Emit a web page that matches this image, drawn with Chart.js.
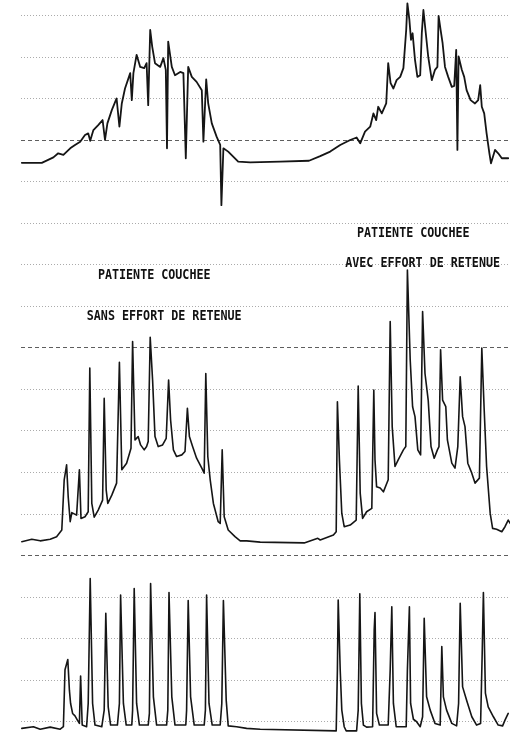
<!DOCTYPE html>
<html>
<head>
<meta charset="utf-8">
<script src="https://cdn.jsdelivr.net/npm/chart.js@4/dist/chart.umd.min.js"></script>
<style>
  html, body { margin: 0; padding: 0; background: #fff; }
  #wrap { position: relative; width: 522px; height: 732px; }
</style>
</head>
<body>
<div id="wrap"><canvas id="c"></canvas></div>
<script>
// Recorded traces: [time (s), value (cmH2O, baseline = 0)]
const pressureTrace = [
  [0.2,-0.2],[5.2,-0.2],[8.1,1.1],[9.3,2.1],[10.6,1.7],[12.3,3.3],[13.5,4.1],[14.8,4.9],[16.0,6.5],[16.8,6.9],
  [17.3,5.1],[18.1,7.7],[19.3,8.9],[20.4,10.1],[21.0,5.3],[21.6,9.3],[22.7,12.5],[23.9,15.3],[24.6,8.5],[25.2,14.1],
  [26.0,17.7],[27.3,21.4],[27.7,14.9],[28.1,21.4],[28.9,25.8],[29.8,22.9],[30.8,22.6],[31.4,23.8],[31.8,13.7],[32.3,31.8],
  [32.8,27.8],[33.5,23.8],[34.8,22.9],[35.6,25.0],[36.2,22.2],[36.5,3.3],[36.8,29.0],[37.7,22.9],[38.5,20.9],[39.8,21.7],
  [40.6,21.4],[41.2,0.9],[41.8,22.9],[42.7,20.5],[43.9,19.3],[45.2,17.3],[45.6,4.9],[46.3,19.9],[46.8,14.1],[47.7,9.3],
  [48.9,6.1],[49.8,4.1],[50.1,-10.4],[50.6,3.3],[51.8,2.5],[54.3,0.1],[57.3,-0.1],[64.8,0.1],[72.0,0.3],[74.8,1.4],
  [77.3,2.5],[79.8,4.1],[82.3,5.3],[83.9,5.9],[84.8,4.5],[86.0,7.3],[87.3,8.5],[88.1,11.7],[88.8,10.1],[89.3,13.3],
  [90.2,11.7],[91.3,14.1],[91.8,23.8],[92.4,19.0],[93.1,17.7],[93.9,19.7],[94.8,20.5],[95.6,22.6],[96.3,31.8],[96.6,38.2],
  [97.1,34.2],[97.5,29.4],[97.9,31.0],[98.5,24.6],[99.1,20.5],[99.8,20.9],[100.2,31.0],[100.6,36.6],[101.2,31.0],[101.8,25.4],
  [102.7,19.7],[103.5,22.2],[104.1,22.9],[104.4,35.2],[104.9,31.8],[105.4,28.6],[106.0,22.9],[106.8,20.5],[107.7,18.1],[108.3,18.3],
  [108.8,27.0],[109.1,2.9],[109.4,25.4],[110.2,22.2],[110.8,20.5],[111.4,17.3],[112.4,14.9],[113.5,14.1],[114.3,14.9],[114.8,18.5],
  [115.2,13.3],[115.8,11.7],[116.4,6.9],[117.1,2.1],[117.5,-0.3],[118.5,2.9],[119.3,2.1],[120.2,0.9],[121.8,0.9]
];

const middleTrace = [
  [0.2,0],[2.7,0.6],[4.8,0.2],[7.3,0.6],[8.9,1.2],[10.2,2.8],[10.8,14.9],[11.4,18.5],[11.8,10.8],[12.3,4.8],
  [12.7,7.0],[13.9,6.4],[14.6,17.3],[15.0,5.6],[16.0,6.0],[16.8,7.2],[17.2,41.8],[17.7,9.2],[18.3,5.9],[19.3,7.6],
  [20.4,10.0],[20.8,34.5],[21.3,12.4],[21.7,9.2],[22.7,11.2],[23.9,14.1],[24.6,43.2],[25.2,17.3],[26.4,18.9],[27.5,22.5],
  [27.9,48.2],[28.5,24.5],[29.3,25.3],[29.9,23.3],[30.8,22.1],[31.4,22.9],[31.8,24.1],[32.3,49.2],[32.9,38.9],[33.5,25.3],
  [34.3,22.9],[35.4,23.3],[36.3,24.9],[36.9,38.9],[37.4,29.3],[38.1,22.1],[38.9,20.5],[40.2,20.9],[41.0,21.7],[41.6,32.1],
  [42.1,25.3],[42.9,22.9],[43.9,20.1],[45.2,17.7],[45.8,16.5],[46.2,40.5],[46.7,20.5],[47.3,14.9],[48.1,9.2],[49.3,4.8],
  [49.8,4.4],[50.3,22.1],[50.8,6.0],[51.8,2.8],[53.5,1.2],[54.8,0.2],[56.4,0.2],[59.8,-0.1],[70.8,-0.3],[74.2,0.8],
  [74.8,0.4],[78.1,1.6],[78.8,2.4],[79.1,33.7],[79.6,19.7],[80.2,6.8],[80.8,3.6],[82.3,4.0],[83.8,5.2],[84.3,37.5],
  [84.8,11.7],[85.4,5.6],[86.4,7.2],[87.7,8.0],[88.2,36.5],[88.5,19.7],[88.9,13.2],[89.8,12.9],[90.6,12.0],[91.8,14.9],
  [92.3,53.0],[92.8,27.7],[93.5,18.1],[94.3,19.7],[95.6,22.1],[96.2,22.9],[96.6,65.4],[97.3,43.8],[97.9,32.5],[98.5,30.1],
  [99.2,22.1],[99.9,20.9],[100.4,55.4],[101.0,40.5],[101.8,34.1],[102.5,22.9],[103.3,20.1],[104.1,22.1],[104.5,22.9],[104.9,46.2],
  [105.4,34.1],[106.2,32.5],[106.6,24.5],[107.7,18.9],[108.5,17.7],[109.2,22.9],[109.8,39.7],[110.4,30.1],[111.0,27.7],[111.7,18.9],
  [112.7,16.5],[113.5,14.1],[114.6,15.3],[115.2,46.6],[115.8,31.7],[116.4,18.1],[117.3,6.8],[117.9,3.2],[118.9,3.0],[120.2,2.4],
  [121.0,3.6],[121.8,5.2],[122.3,4.4]
];

const bottomTrace = [
  [0.2,-0.1],[3.1,0.3],[4.8,-0.3],[7.3,0.2],[9.8,-0.3],[10.6,0.3],[11.0,14.0],[11.7,16.5],[12.1,9.1],[12.4,5.9],
  [12.9,3.5],[13.5,2.9],[14.1,1.9],[14.6,1.1],[14.9,12.5],[15.3,0.7],[16.4,0.3],[16.8,5.9],[17.3,36.0],[17.9,5.9],
  [18.5,0.7],[20.2,0.3],[20.8,4.3],[21.2,27.6],[21.8,5.1],[22.4,0.7],[24.1,0.7],[24.6,5.9],[24.9,32.0],[25.6,5.9],
  [26.3,0.7],[27.7,0.7],[27.9,4.3],[28.3,33.6],[28.9,5.9],[29.6,0.7],[31.8,0.7],[32.1,3.5],[32.4,34.8],[33.1,7.5],
  [33.9,0.7],[36.4,0.7],[36.7,4.3],[37.0,32.6],[37.7,7.5],[38.5,0.7],[41.2,0.7],[41.4,4.3],[41.8,30.7],[42.4,7.5],
  [43.3,0.7],[45.8,0.7],[46.1,4.3],[46.4,32.0],[47.0,5.9],[47.8,0.7],[49.8,0.7],[50.2,5.9],[50.6,30.7],[51.3,6.7],
  [51.8,0.5],[53.9,0.3],[56.4,-0.1],[59.8,-0.3],[78.8,-0.7],[79.1,14.0],[79.3,30.8],[79.8,14.0],[80.2,4.3],[80.8,0.3],
  [81.3,-0.7],[83.9,-0.7],[84.3,4.3],[84.7,32.3],[85.1,5.9],[85.6,0.7],[86.4,0.2],[87.9,0.3],[88.3,23.6],[88.5,27.8],
  [88.9,3.5],[89.6,0.7],[91.8,0.7],[92.3,14.0],[92.7,29.2],[93.1,5.9],[93.8,0.3],[96.3,0.3],[96.6,14.0],[97.1,29.2],
  [97.4,5.9],[98.1,2.1],[98.9,1.5],[99.8,0.3],[100.4,2.7],[100.8,26.4],[101.4,7.5],[102.3,4.3],[103.5,1.1],[104.8,0.7],
  [105.2,19.6],[105.6,7.5],[106.4,4.3],[107.7,1.1],[108.9,0.5],[109.4,5.9],[109.8,30.0],[110.4,9.9],[111.4,6.7],[112.7,2.7],
  [113.9,0.7],[114.9,1.1],[115.3,18.0],[115.6,32.6],[116.1,8.4],[116.8,5.1],[118.1,2.7],[119.3,0.7],[120.4,0.5],[121.0,1.9],
  [121.8,3.5]
];

// Annotation texts: [text, time (s), grid row]
const captions = [
  ['PATIENTE COUCHEE', 33.3, 6.24],
  ['SANS EFFORT DE RETENUE', 35.8, 7.23],
  ['PATIENTE COUCHEE', 98.05, 5.24],
  ['AVEC EFFORT DE RETENUE', 100.4, 5.97]
];

// Chart-paper grid: 18 rows, every fifth row (from row 3) is dashed
const gridRows = Array.from({ length: 18 }, (_, i) => i);
const dashedRows = [3, 8, 13];
const gridMin = -0.378, gridMax = 17.248;
const unitsPerRow = 10;
// Baseline row of each channel
const baseRow = { top: 3.523, mid: 12.665, bot: 17.151 };

function gridAxis(dashed) {
  return {
    type: 'linear',
    position: 'left',
    reverse: true,
    min: gridMin,
    max: gridMax,
    afterBuildTicks: s => { s.ticks = gridRows.map(v => ({ value: v })); },
    ticks: { display: false },
    grid: {
      drawTicks: false,
      tickLength: 0,
      lineWidth: 1,
      color: c => {
        const isDashed = dashedRows.includes(c.tick ? c.tick.value : -1);
        if (isDashed !== dashed) return 'rgba(0,0,0,0)';
        return dashed ? '#5e5e5e' : '#ababab';
      }
    },
    border: { display: false, dash: dashed ? [4, 3] : [1, 2] }
  };
}

function channelAxis(base) {
  return {
    type: 'linear',
    display: false,
    min: (base - gridMax) * unitsPerRow,
    max: (base - gridMin) * unitsPerRow
  };
}

function traceDataset(points, axisId, width) {
  return {
    data: points.map(([x, y]) => ({ x, y })),
    yAxisID: axisId,
    borderColor: '#151515',
    borderWidth: width,
    pointRadius: 0,
    tension: 0,
    fill: false,
    borderJoinStyle: 'round',
    borderCapStyle: 'round'
  };
}

const captionPlugin = {
  id: 'captions',
  afterDatasetsDraw(chart) {
    const ctx = chart.ctx;
    const xs = chart.scales.x, gs = chart.scales.gDot;
    ctx.save();
    ctx.fillStyle = '#111';
    ctx.font = 'bold 11.7px "DejaVu Sans Mono", monospace';
    ctx.textAlign = 'center';
    ctx.textBaseline = 'middle';
    captions.forEach(([text, t, row]) => {
      ctx.save();
      ctx.translate(xs.getPixelForValue(t), gs.getPixelForValue(row));
      ctx.scale(1, 1.25);
      ctx.fillText(text, 0, 0);
      ctx.restore();
    });
    ctx.restore();
  }
};

new Chart(document.getElementById('c'), {
  type: 'line',
  data: {
    datasets: [
      traceDataset(pressureTrace, 'yTop', 1.8),
      traceDataset(middleTrace, 'yMid', 1.6),
      traceDataset(bottomTrace, 'yBot', 1.6)
    ]
  },
  options: {
    responsive: true,
    maintainAspectRatio: false,
    animation: false,
    layout: { padding: { left: 21, right: 12, top: 0, bottom: 0 } },
    plugins: { legend: { display: false }, tooltip: { enabled: false } },
    scales: {
      x: { type: 'linear', display: false, min: 0, max: 122.25 },
      gDot: gridAxis(false),
      gDash: gridAxis(true),
      yTop: channelAxis(baseRow.top),
      yMid: channelAxis(baseRow.mid),
      yBot: channelAxis(baseRow.bot)
    }
  },
  plugins: [captionPlugin]
});
</script>
</body>
</html>
